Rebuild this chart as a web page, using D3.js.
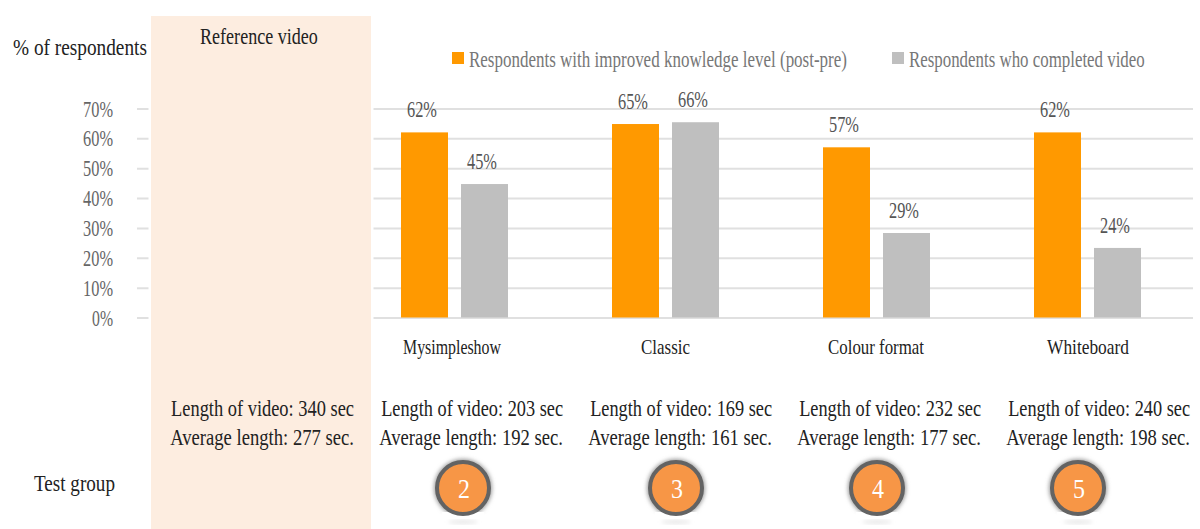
<!DOCTYPE html>
<html lang="en">
<head>
<meta charset="UTF-8">
<script src="https://d3js.org/d3.v7.min.js"></script>
<style>
    body { margin: 0; background: #fff; }
    text { font-family: "Liberation Serif", serif; }
</style>
</head>
<body>
<div id="chart"></div>
<script>
var categories = ["Mysimpleshow", "Classic", "Colour format", "Whiteboard"];
var seriesNames = ["Respondents with improved knowledge level (post-pre)", "Respondents who completed video"];
var improved = [62, 64.8, 57, 62];
var completed = [44.7, 65.4, 28.3, 23.3];
var improvedLabels = ["62%", "65%", "57%", "62%"];
var completedLabels = ["45%", "66%", "29%", "24%"];
var yTicks = [0, 10, 20, 30, 40, 50, 60, 70];
var lengthRef = ["Length of video: 340 sec", "Average length: 277 sec."];
var lengthLines = ["Length of video: 203 sec", "Length of video: 169 sec", "Length of video: 232 sec", "Length of video: 240 sec"];
var averageLines = ["Average length: 192 sec.", "Average length: 161 sec.", "Average length: 177 sec.", "Average length: 198 sec."];
var groupNumbers = [2, 3, 4, 5];

var colors = ["#ff9900", "#bfbfbf"];
var gridColor = "#e0e0e0";

var width = 1200, height = 529;

var svg = d3.select("#chart").append("svg")
    .attr("width", width)
    .attr("height", height)
    .style("display", "block");

var y = d3.scaleLinear().domain([0, 70]).range([317.5, 108.5]);
var x0 = d3.scaleBand().domain(categories).range([349, 1193])
    .paddingInner(104 / 211).paddingOuter(52 / 211);
var x1 = d3.scaleBand().domain([0, 1]).range([0, x0.bandwidth()]).paddingInner(13 / 60);

// the source font is a tall narrow serif, so set a big size and squeeze it to a given width
function label(x, yPos, str, size, color, anchor, w) {
    var t = svg.append("text")
        .attr("font-size", size)
        .attr("fill", color)
        .attr("text-anchor", anchor)
        .text(str);
    var sx = w / t.node().getComputedTextLength();
    t.attr("transform", "translate(" + x + "," + yPos + ") scale(" + sx + ",1)");
    return t;
}

// gridlines
var yAxis = d3.axisRight(y).tickValues(yTicks).tickSize(1193 - 137).tickFormat("");
var axisG = svg.append("g").attr("transform", "translate(137,0)").call(yAxis);
axisG.select(".domain").remove();
axisG.selectAll("line").attr("stroke", gridColor).attr("stroke-width", 2);

// reference video panel, the white edge leaves the little gaps in the gridlines
svg.append("rect")
    .attr("x", 148.5).attr("y", 14)
    .attr("width", 225).attr("height", 520)
    .attr("fill", "#fff");
svg.append("rect")
    .attr("x", 151).attr("y", 16)
    .attr("width", 220).attr("height", 513)
    .attr("fill", "#fdede0");

// y tick labels
yTicks.forEach(function (d) {
    label(113, y(d) + 8, d + "%", 23, "#666", "end", d === 0 ? 21 : 30);
});

// bars
var groups = svg.selectAll(".cat").data(categories).enter().append("g")
    .attr("class", "cat")
    .attr("transform", function (d) { return "translate(" + x0(d) + ",0)"; });

[improved, completed].forEach(function (vals, s) {
    groups.append("rect")
        .attr("x", x1(s))
        .attr("y", function (d, i) { return y(vals[i]); })
        .attr("width", x1.bandwidth())
        .attr("height", function (d, i) { return y(0) - y(vals[i]); })
        .attr("fill", colors[s]);
});

// value labels
categories.forEach(function (c, i) {
    var left = x0(c) + x1(0) + x1.bandwidth() / 2;
    var right = x0(c) + x1(1) + x1.bandwidth() / 2;
    label(left - 2.5, y(improved[i]) - 15, improvedLabels[i], 23, "#555", "middle", 30);
    label(right - 2.5, y(completed[i]) - 15, completedLabels[i], 23, "#555", "middle", 30);
});

// titles
label(13, 55, "% of respondents", 23, "#222", "start", 134);
label(200, 44, "Reference video", 23, "#222", "start", 118);
label(34, 491, "Test group", 23, "#222", "start", 81);

// legend
svg.append("rect").attr("x", 452).attr("y", 52).attr("width", 12).attr("height", 12).attr("fill", colors[0]);
label(469, 67, seriesNames[0], 23, "#777", "start", 378);
svg.append("rect").attr("x", 892).attr("y", 52).attr("width", 12).attr("height", 12).attr("fill", colors[1]);
label(909, 67, seriesNames[1], 23, "#777", "start", 236);

// category names and the video lengths
var catCenters = [452, 665.5, 876, 1088];
var catWidths = [98, 49, 96, 82];
categories.forEach(function (c, i) {
    var end = 563 + 209 * i;
    label(catCenters[i], 354, c, 22, "#222", "middle", catWidths[i]);
    label(end, 416, lengthLines[i], 23, "#222", "end", 182);
    label(end, 445, averageLines[i], 23, "#222", "end", 184);
});
label(354, 416, lengthRef[0], 23, "#222", "end", 183);
label(354, 445, lengthRef[1], 23, "#222", "end", 184);

// numbered circles, soft shadow and the faint reflection under them
var defs = svg.append("defs");
defs.append("filter").attr("id", "soft")
    .attr("x", "-30%").attr("y", "-30%").attr("width", "160%").attr("height", "160%")
    .append("feGaussianBlur").attr("stdDeviation", 2);

var circleX = [463, 676, 877, 1078];
categories.forEach(function (c, i) {
    var cx = circleX[i];
    svg.append("circle")
        .attr("cx", cx).attr("cy", 488).attr("r", 29)
        .attr("fill", "#999").attr("filter", "url(#soft)");
    // white strip cuts the shadow off below the circle
    svg.append("rect")
        .attr("x", cx - 21).attr("y", 512).attr("width", 42).attr("height", 17)
        .attr("fill", "#fff");
    svg.append("ellipse")
        .attr("cx", cx).attr("cy", 522).attr("rx", 15).attr("ry", 1.5)
        .attr("fill", "#ddd").attr("filter", "url(#soft)");
    svg.append("circle")
        .attr("cx", cx).attr("cy", 488).attr("r", 26)
        .attr("fill", "#f79646").attr("stroke", "#636363").attr("stroke-width", 4);
    label(cx + 1, 498, groupNumbers[i], 27, "#fff", "middle", 12);
});
</script>
</body>
</html>
